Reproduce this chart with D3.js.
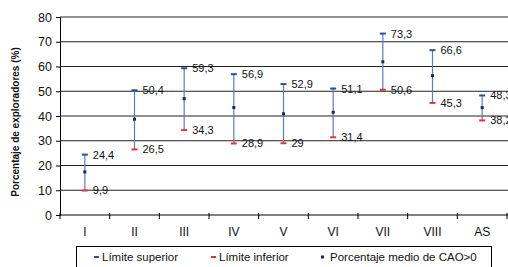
<!DOCTYPE html>
<html>
<head>
<meta charset="utf-8">
<script src="https://cdn.jsdelivr.net/npm/d3@7"></script>
<style>
  body { margin: 0; background: #fff; }
  svg { display: block; font-family: "Liberation Sans", Arial, sans-serif; }
</style>
</head>
<body>
<div id="chart"></div>
<script>
// data
const categories = ["I", "II", "III", "IV", "V", "VI", "VII", "VIII", "AS"];
const upperLimit = [24.4, 50.4, 59.3, 56.9, 52.9, 51.1, 73.3, 66.6, 48.3];
const lowerLimit = [9.9, 26.5, 34.3, 28.9, 29, 31.4, 50.6, 45.3, 38.2];
const meanPct = [17.4, 38.7, 47.0, 43.4, 40.9, 41.5, 61.9, 56.3, 43.4];
const yTicks = [0, 10, 20, 30, 40, 50, 60, 70, 80];
const legendLabels = ["Límite superior", "Límite inferior", "Porcentaje medio de CAO>0"];

const width = 508, height = 267;
const margin = {top: 17, right: 1, bottom: 52, left: 60};
const upColor = "#2d4f9e", lowColor = "#e8322a", lineColor = "#5b7bc8", meanColor = "#16285a";

const fmt = v => String(v).replace(".", ",");

const svg = d3.select("#chart").append("svg")
    .attr("width", width)
    .attr("height", height);

const x = d3.scaleBand()
    .domain(categories)
    .range([margin.left, width - margin.right]);

const y = d3.scaleLinear()
    .domain([0, 80])
    .range([height - margin.bottom, margin.top]);

// grid lines
svg.append("g")
    .selectAll("line")
    .data(yTicks.filter(d => d > 0))
    .enter().append("line")
    .attr("x1", margin.left)
    .attr("x2", width)
    .attr("y1", d => y(d))
    .attr("y2", d => y(d))
    .attr("stroke", "#222")
    .attr("stroke-width", 1);

// y axis
const gy = svg.append("g")
    .attr("transform", `translate(${margin.left},0)`)
    .call(d3.axisLeft(y).tickValues(yTicks).tickSize(4).tickPadding(4));
gy.select(".domain").attr("stroke", "#000");
gy.selectAll("text").style("font-size", "12.5px").attr("fill", "#111");

// x axis, ticks on band boundaries
const gx = svg.append("g")
    .attr("transform", `translate(0,${y(0)})`)
    .call(d3.axisBottom(x).tickSize(0).tickPadding(12));
gx.select(".domain").attr("stroke", "#000").attr("d", `M${margin.left},0H${width}`);
gx.selectAll("text").style("font-size", "12px").attr("fill", "#111");

svg.append("g")
    .selectAll("line")
    .data(categories.concat(["end"]))
    .enter().append("line")
    .attr("x1", (d, i) => margin.left + i * x.bandwidth())
    .attr("x2", (d, i) => margin.left + i * x.bandwidth())
    .attr("y1", y(0) - 2)
    .attr("y2", y(0) + 4)
    .attr("stroke", "#000");

// y axis title
svg.append("text")
    .attr("transform", `translate(19,${(margin.top + y(0)) / 2 + 6}) rotate(-90)`)
    .attr("text-anchor", "middle")
    .style("font-size", "10px")
    .style("font-weight", "bold")
    .attr("fill", "#111")
    .text("Porcentaje de exploradores (%)");

// error bars
const cx = d => x(d) + x.bandwidth() / 2;
const bars = svg.append("g")
    .selectAll("g")
    .data(categories)
    .enter().append("g");

bars.append("line")
    .attr("x1", cx).attr("x2", cx)
    .attr("y1", (d, i) => y(upperLimit[i]))
    .attr("y2", (d, i) => y(lowerLimit[i]))
    .attr("stroke", lineColor)
    .attr("stroke-width", 1.2);

bars.append("rect")
    .attr("x", d => cx(d) - 3)
    .attr("y", (d, i) => y(upperLimit[i]) - 1)
    .attr("width", 6).attr("height", 2)
    .attr("fill", upColor);

bars.append("rect")
    .attr("x", d => cx(d) - 3)
    .attr("y", (d, i) => y(lowerLimit[i]) - 1)
    .attr("width", 6).attr("height", 2)
    .attr("fill", lowColor);

bars.append("rect")
    .attr("x", d => cx(d) - 1.5)
    .attr("y", (d, i) => y(meanPct[i]) - 1.5)
    .attr("width", 3).attr("height", 3)
    .attr("fill", meanColor);

bars.append("text")
    .attr("x", d => cx(d) + 8)
    .attr("y", (d, i) => y(upperLimit[i]) + 4)
    .style("font-size", "11px")
    .attr("fill", "#111")
    .text((d, i) => fmt(upperLimit[i]));

bars.append("text")
    .attr("x", d => cx(d) + 8)
    .attr("y", (d, i) => y(lowerLimit[i]) + 4)
    .style("font-size", "11px")
    .attr("fill", "#111")
    .text((d, i) => fmt(lowerLimit[i]));

// legend
svg.append("rect")
    .attr("x", 76.5).attr("y", 246.5)
    .attr("width", 415).attr("height", 40)
    .attr("fill", "none")
    .attr("stroke", "#000");

const legendX = [94, 211, 320];
const legendColors = [upColor, lowColor, meanColor];
const leg = svg.append("g")
    .selectAll("g")
    .data(legendLabels)
    .enter().append("g")
    .attr("transform", (d, i) => `translate(${legendX[i]},257)`);

leg.append("rect")
    .attr("x", (d, i) => i === 2 ? 1 : 0)
    .attr("y", (d, i) => i === 2 ? -1.5 : -1)
    .attr("width", (d, i) => i === 2 ? 3 : 5)
    .attr("height", (d, i) => i === 2 ? 3 : 2)
    .attr("fill", (d, i) => legendColors[i]);

leg.append("text")
    .attr("x", (d, i) => i === 2 ? 10 : 8)
    .attr("y", 4)
    .style("font-size", "11.5px")
    .attr("fill", "#111")
    .text(d => d);
</script>
</body>
</html>
